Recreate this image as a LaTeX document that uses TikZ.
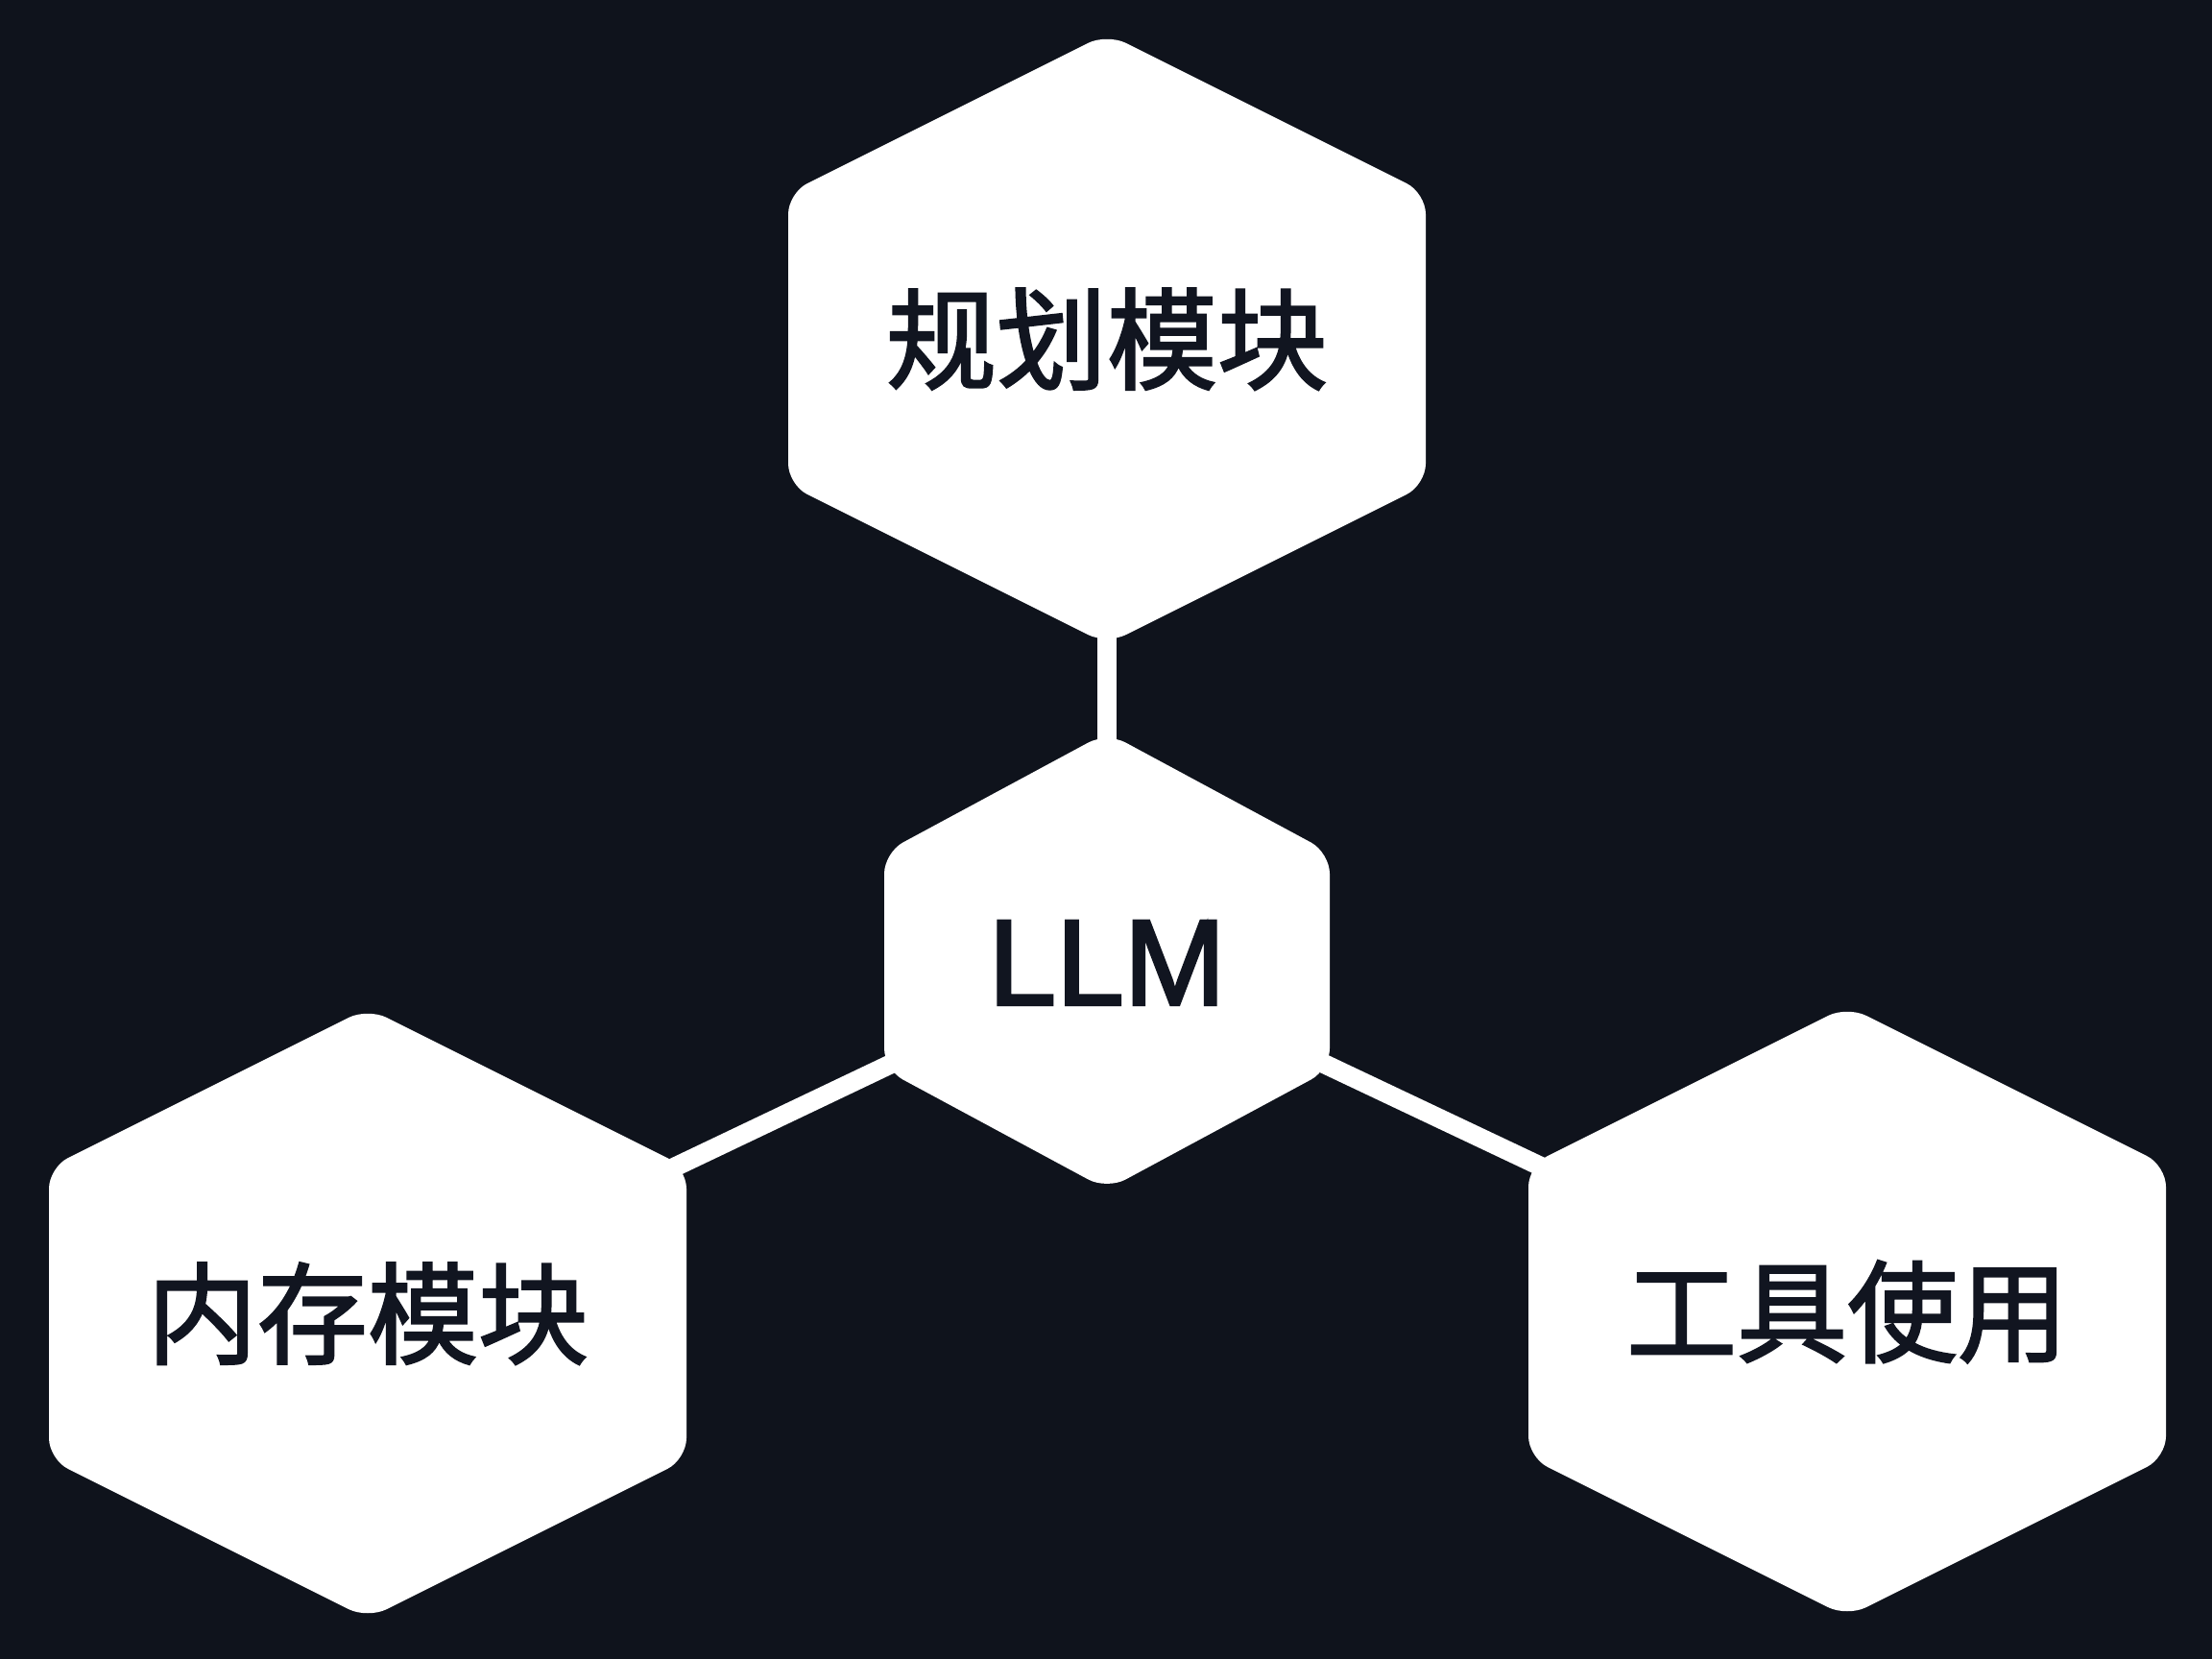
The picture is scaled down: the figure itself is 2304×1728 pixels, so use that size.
\documentclass[tikz,border=0pt]{standalone}
\usepackage{fontspec}
\setmainfont{Liberation Sans}
\newfontfamily\cjk{Noto Sans CJK SC}[FakeBold=2]
\newfontfamily\llmfont{Liberation Sans}[FakeBold=2.4]
\definecolor{bgc}{HTML}{0F131C}
\definecolor{inkc}{HTML}{111520}
\pgfdeclarelayer{back}
\pgfsetlayers{back,main}
\tikzset{
  cjklbl/.style={text=inkc, font=\cjk\fontsize{32.7pt}{36pt}\selectfont, inner sep=0pt, text height=0.955cm, text depth=0.08cm},
  latlbl/.style={text=inkc, font=\llmfont\fontsize{36.1pt}{40pt}\selectfont, inner sep=0pt, text height=0.909cm, text depth=0cm},
  conn/.style={draw=white, line width=2mm},
  hexfill/.style={fill=white, rounded corners=2.2mm},
}
\newcommand\hexshape[4]{%
  \fill[hexfill, shift={(#1.center)}] (0,-#3) -- (#2,-#4) -- (#2,#4) -- (0,#3) -- (-#2,#4) -- (-#2,-#4) -- cycle;}
\begin{document}
\begin{tikzpicture}[x=0.01cm, y=-0.01cm]
\useasboundingbox (0,0) rectangle (2304,1728);
\node[cjklbl] (plan) at (1153,353) {规划模块};
\node[latlbl] (llm) at (1153,1001) {LLM};
\node[cjklbl] (mem) at (383,1368) {内存模块};
\node[cjklbl] (tool) at (1924,1366) {工具使用};
\begin{pgfonlayer}{back}
  \fill[bgc] (0,0) rectangle (2304,1728);
  \draw[conn] (plan.center) -- (llm.center);
  \draw[conn] (llm.center) -- (mem.center);
  \draw[conn] (llm.center) -- (tool.center);
  \hexshape{plan}{332}{318}{152}
  \hexshape{llm}{232}{238}{113}
  \hexshape{mem}{332}{318}{152}
  \hexshape{tool}{332}{318}{152}
\end{pgfonlayer}
\end{tikzpicture}
\end{document}
